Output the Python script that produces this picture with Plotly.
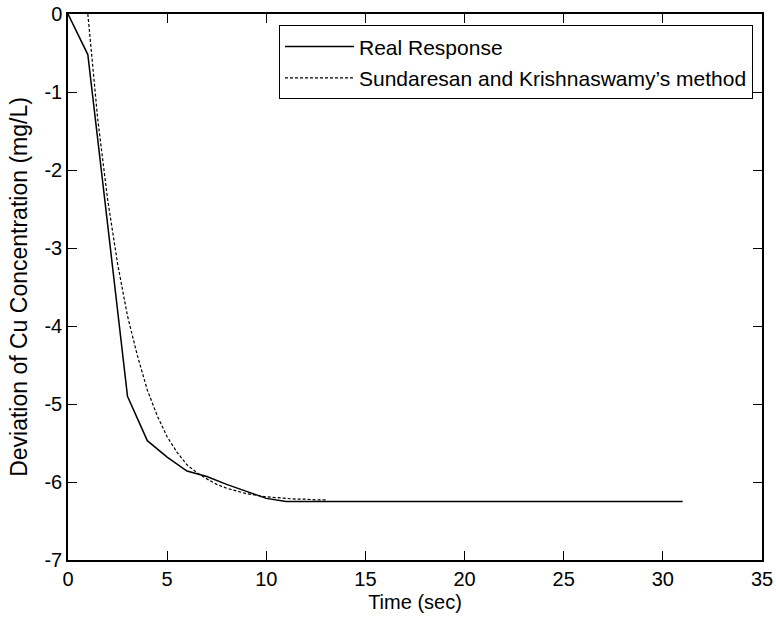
import plotly.graph_objects as go

# real plant response (sampled every second)
real_t = list(range(0, 32))
real_y = [0.0, -0.52, -2.7, -4.9, -5.47, -5.68, -5.86, -5.93, -6.03, -6.12,
          -6.21, -6.25] + [-6.25] * 20

# Sundaresan and Krishnaswamy FOPDT model response
model_t = [1.0, 1.5, 2.0, 2.5, 3.0, 3.5, 4.0, 4.5, 5.0, 5.5, 6.0, 6.5, 7.0,
           7.5, 8.0, 8.5, 9.0, 9.5, 10.0, 10.5, 11.0, 11.5, 12.0, 12.5, 13.0]
model_y = [0.0, -1.35, -2.38, -3.2, -3.87, -4.38, -4.82, -5.15, -5.42, -5.62,
           -5.78, -5.88, -5.96, -6.03, -6.08, -6.12, -6.15, -6.17, -6.19,
           -6.2, -6.21, -6.22, -6.22, -6.23, -6.23]

x_ticks = [0, 5, 10, 15, 20, 25, 30, 35]
y_ticks = [0, -1, -2, -3, -4, -5, -6, -7]
y_ticklabels = ["0", "-1", "-2", "-3", "-4", "-5", "-6", "-7"]

font = "Liberation Sans, Arial, sans-serif"

fig = go.Figure()
fig.add_trace(go.Scatter(x=real_t, y=real_y, mode="lines", name="Real Response",
                         legendgroup="a",
                         line=dict(color="black", width=1.5)))
fig.add_trace(go.Scatter(x=model_t, y=model_y, mode="lines",
                         name="Sundaresan and Krishnaswamy\u2019s method",
                         legendgroup="b",
                         line=dict(color="black", width=1.2, dash="3px,2px")))

axis_style = dict(showline=True, mirror="ticks", linecolor="black", linewidth=1.5,
                  ticks="inside", ticklen=9, tickcolor="black", tickwidth=1,
                  showgrid=False, zeroline=False, automargin=False,
                  tickfont=dict(family=font, size=20, color="black"))

fig.update_xaxes(range=[0, 35], tickvals=x_ticks,
                 title=dict(text="Time (sec)", font=dict(family=font, size=20, color="black"),
                            standoff=6),
                 **axis_style)
fig.update_yaxes(range=[-7, 0], tickvals=y_ticks, ticktext=y_ticklabels,
                 title=dict(text="Deviation of Cu Concentration (mg/L)",
                            font=dict(family=font, size=23, color="black"), standoff=10),
                 **axis_style)

fig.update_layout(
    width=776, height=622,
    margin=dict(l=68, r=14, t=14, b=62),
    plot_bgcolor="white", paper_bgcolor="white",
    font=dict(family=font, color="black"),
    legend=dict(x=0.987, y=0.979, xanchor="right", yanchor="top",
                bgcolor="white", bordercolor="black", borderwidth=1,
                font=dict(family=font, size=21, color="black"),
                itemwidth=69, tracegroupgap=1),
)

# drop the default 8px page margin so the figure sits at the window's corner
fig.write_html("out.html", config={"displayModeBar": False},
               post_script="document.body.style.margin = '0';")
